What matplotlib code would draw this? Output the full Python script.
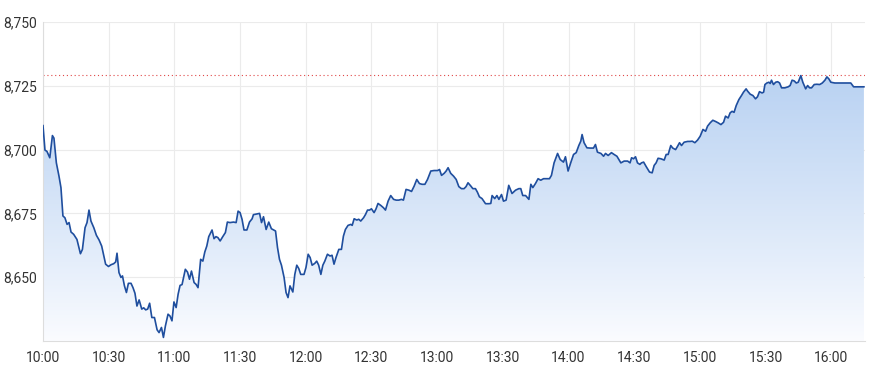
import numpy as np
import matplotlib
matplotlib.use("Agg")
import matplotlib.pyplot as plt
from matplotlib.colors import LinearSegmentedColormap

# minutes after 10:00 and index level
minutes = [0, 0.9, 1.8, 3.1, 4.3, 5.0, 6.1, 7.3, 8.2, 9.1, 10.0, 11.0, 11.9, 12.8, 14.0,
           15.5, 17.1, 18.0, 19.2, 20.1, 21.0, 21.9, 23.2, 24.4, 25.6, 26.8, 27.7, 28.6,
           29.9, 31.1, 32.3, 33.2, 33.8, 34.7, 35.6, 36.3, 37.2, 38.1, 39.0, 40.2, 41.1,
           42.0, 42.9, 43.9, 45.1, 46.0, 46.9, 47.8, 48.7, 49.7, 50.9, 52.1, 53.0,
           54.1, 55.0, 55.9, 57.1, 58.0, 58.9, 59.8, 60.8, 61.7, 62.6, 63.5, 65.0, 66.0,
           66.9, 67.8, 69.0, 69.9, 70.8, 72.0, 73.0, 73.9, 74.8, 75.7, 77.2, 78.1, 79.0,
           79.9, 80.9, 82.1, 83.3, 84.2, 85.4, 87.0, 88.2, 89.1, 90.0, 90.9, 91.8, 93.1,
           94.3, 95.5, 96.1, 97.3, 98.9, 99.8, 100.7, 101.9, 103.1, 104.3, 106.2, 107.1,
           108.0, 108.9, 110.1, 111.0, 111.9, 112.8, 114.1, 115.0, 115.9, 116.8, 117.7,
           119.2, 120.1, 121.1, 122.0, 122.9, 124.1, 125.0, 125.9, 126.9, 127.8, 128.7,
           129.9, 131.1, 132.0, 132.9, 133.8, 135.1, 136.3, 137.2, 138.1, 139.3, 140.6,
           141.2, 142.1, 143.3, 144.2, 145.1, 146.4, 147.3, 148.2, 149.1, 150.0, 151.2,
           152.1, 153.0, 154.3, 155.5, 156.4, 157.6, 158.8, 160.1, 161.3, 162.5,
           163.7, 164.6, 165.8, 167.1, 168.3, 169.5, 170.7, 171.9, 173.1, 174.4, 175.6,
           177.1, 178.6, 180.2, 181.1, 182.0, 183.2, 184.1, 185.0, 186.2, 187.5, 188.7,
           189.9, 191.1, 192.3, 193.2, 194.1, 195.4, 196.3, 197.5, 198.4, 199.3, 200.5,
           202.1, 203.6, 204.5, 205.1, 206.3, 207.3, 208.2, 209.4, 210.3, 211.5, 212.7,
           214.2, 215.8, 217.3, 218.2, 219.1, 220.4, 221.9, 222.8, 223.7, 224.9, 226.1,
           227.3, 228.6, 230.1, 231.3, 232.2, 233.4, 235.0, 236.2, 237.7, 238.6, 239.8,
           241.1, 242.3, 243.5, 244.7, 245.6, 246.2, 247.1, 248.4, 249.9, 251.4, 252.3,
           253.2, 254.8, 256.0, 256.9, 258.1, 259.6, 260.8, 262.1, 263.9, 265.4, 267.0,
           268.1, 268.8, 269.7, 270.6, 271.5, 272.6, 273.3, 274.3, 275.5, 277.0, 278.2,
           279.1, 280.0, 280.9, 282.2, 283.7, 284.6, 285.5, 286.7, 287.6, 288.9, 289.8,
           290.7, 291.6, 292.8, 294.4, 295.5, 296.5, 297.7, 298.9, 300.1, 301.4, 302.6,
           303.5, 304.7, 305.9, 307.2, 308.3, 309.6, 310.8, 311.7, 312.9, 313.8, 314.7,
           315.6, 316.6, 317.8, 319.0, 319.9, 321.1, 321.8, 323.0, 324.2, 325.4, 326.3,
           327.2, 328.4, 329.1, 329.7, 330.6, 331.5, 332.1, 332.7, 333.6, 334.6, 335.5,
           336.4, 337.3, 338.8, 340.3, 341.2, 342.1, 343.1, 344.0, 344.9, 346.1, 347.0,
           348.3, 349.2, 350.1, 351.0, 352.2, 353.4, 354.7, 355.9, 357.1, 358.0, 358.9,
           359.8, 361.6, 364.7, 368.9, 370.2, 372.3, 374.9]

prices = [8709.4, 8699.8, 8699.3, 8696.8, 8705.5, 8704.5, 8694.8, 8689.6, 8685.1, 8674.0,
          8673.3, 8670.7, 8671.4, 8667.7, 8666.8, 8664.8, 8659.2, 8660.9, 8669.4, 8671.4,
          8676.3, 8672.0, 8669.4, 8666.4, 8664.6, 8662.2, 8658.6, 8655.1, 8654.2, 8654.9,
          8655.3, 8656.0, 8659.4, 8651.8, 8649.9, 8650.5, 8646.6, 8644.0, 8647.6, 8647.6,
          8645.9, 8643.7, 8638.7, 8641.1, 8637.5, 8638.0, 8637.2, 8637.5, 8639.8, 8634.2,
          8634.2, 8629.4, 8628.3,
          8630.3, 8626.4, 8630.9, 8635.5, 8634.8, 8632.9, 8640.3, 8638.1, 8643.3, 8646.8,
          8647.1, 8653.1, 8652.0, 8649.2, 8652.4, 8647.9, 8647.2, 8645.9, 8657.0, 8656.3,
          8659.9, 8662.2, 8665.9, 8668.5, 8665.1, 8665.9, 8665.5, 8664.2, 8665.9, 8667.5,
          8671.6, 8671.4, 8671.6, 8671.4, 8675.9, 8675.3, 8672.7, 8668.5, 8668.5, 8671.6,
          8672.9, 8674.5, 8674.7, 8675.0, 8671.4, 8673.7, 8668.7, 8671.6, 8669.0, 8668.1,
          8661.6, 8657.0,
          8654.7, 8649.9, 8644.0, 8642.0, 8646.6, 8644.2, 8651.1, 8654.7, 8653.4, 8651.1,
          8651.1, 8653.8, 8659.0, 8657.7, 8654.7, 8655.4, 8656.3, 8654.7, 8651.1, 8654.7,
          8656.3, 8659.0, 8658.3, 8658.6, 8655.1, 8657.7, 8660.9, 8660.9, 8666.1, 8668.7,
          8670.3, 8670.7, 8670.3, 8672.9, 8672.4, 8672.7, 8672.0, 8673.3, 8674.6, 8676.3,
          8676.3, 8676.8, 8675.3, 8676.8, 8678.9, 8678.1, 8677.2, 8676.3, 8679.8, 8682.0,
          8680.5, 8680.2, 8680.2,
          8680.5, 8680.2, 8684.4, 8684.1, 8683.6, 8685.7, 8688.3, 8686.7, 8686.4, 8686.4,
          8688.3, 8691.6, 8691.8, 8691.8, 8692.2, 8689.9, 8690.7, 8691.6, 8692.9, 8690.7,
          8689.6, 8688.3, 8685.5, 8684.7, 8684.7, 8685.5, 8687.0, 8685.7, 8684.7, 8684.7,
          8683.3, 8681.5, 8680.8, 8678.8, 8678.8, 8678.9, 8682.0, 8680.8, 8682.0, 8680.5,
          8682.4, 8679.8, 8680.2, 8686.0, 8682.8, 8684.1, 8684.7,
          8684.7, 8682.0, 8682.0, 8680.5, 8686.4, 8685.1, 8686.7, 8688.6, 8688.0, 8688.6,
          8688.6, 8688.6, 8689.9, 8694.8, 8698.5, 8696.1, 8695.1, 8697.2, 8691.6, 8695.1,
          8698.1, 8698.8, 8701.6, 8703.3, 8705.9, 8702.7, 8700.7, 8700.6, 8700.6, 8702.0,
          8699.0, 8698.5, 8697.4, 8698.5, 8697.7, 8698.8, 8698.1, 8697.4, 8694.8, 8695.5,
          8695.5, 8694.8, 8696.8, 8696.4, 8697.2, 8694.8, 8694.2,
          8694.8, 8695.1, 8693.3, 8691.2, 8690.9, 8693.8, 8694.8, 8696.6, 8696.4, 8695.9,
          8698.1, 8698.1, 8701.6, 8700.6, 8700.0, 8701.3, 8702.7, 8701.6, 8702.9, 8703.2,
          8703.2, 8703.3, 8702.7, 8703.7, 8705.2, 8707.9, 8707.2, 8709.2, 8710.5, 8711.5,
          8711.0, 8710.5, 8709.8, 8710.7, 8713.1, 8712.4, 8714.4, 8715.0, 8714.6, 8717.3,
          8719.6, 8721.2, 8722.5, 8723.8,
          8722.9, 8721.7, 8721.2, 8719.9, 8720.7, 8722.7, 8722.2, 8722.5, 8725.5, 8726.1,
          8726.4, 8725.9, 8727.2, 8725.5, 8726.4, 8726.6, 8726.1, 8724.2, 8724.2, 8724.6,
          8725.1, 8727.2, 8726.9, 8726.1, 8726.4, 8729.0, 8726.4, 8723.8, 8725.1, 8724.2,
          8724.2, 8725.5, 8725.6, 8725.5, 8726.1, 8727.2, 8728.5, 8727.7, 8726.4, 8726.1,
          8726.1, 8726.1, 8724.6, 8724.6, 8724.6]

prev_close = 8729.3
x_tick_labels = ["10:00", "10:30", "11:00", "11:30", "12:00", "12:30", "13:00",
                 "13:30", "14:00", "14:30", "15:00", "15:30", "16:00"]
y_ticks = [8650, 8675, 8700, 8725, 8750]

plt.rcParams['font.family'] = ['Roboto', 'DejaVu Sans']

fig = plt.figure(figsize=(8.7, 3.71), dpi=100)
ax = fig.add_axes([43 / 870, 30 / 371, 822 / 870, 319 / 371])

x = np.array(minutes)
y = np.array(prices)
x_max = 375.4
y_min, y_max = 8625, 8750

# gradient fill under the line
cmap = LinearSegmentedColormap.from_list("fill", ["#fbfcff", "#b9d2f2"])
grad = np.linspace(0, 1, 256).reshape(-1, 1)
grad = grad ** 0.9
img = ax.imshow(grad, cmap=cmap, aspect="auto", origin="lower",
                extent=[0, x_max, y_min, 8730], zorder=1)
poly = ax.fill_between(x, y, y_min, color="none", lw=0)
clip = poly.get_paths()[0]
img.set_clip_path(clip, transform=ax.transData)

ax.plot(x, y, color="#1f4e9e", lw=1.2, zorder=3)
ax.axhline(prev_close, color="#e04848", lw=0.8, ls=(0, (1, 2.5)), zorder=2)

ax.set_xlim(0, x_max)
ax.set_ylim(y_min, y_max)
ax.set_xticks(np.arange(len(x_tick_labels)) * 30)
ax.set_xticklabels(x_tick_labels)
ax.set_yticks(y_ticks)
ax.set_yticklabels([f"{v:,}" for v in y_ticks])

ax.grid(True, color="#ebebeb", lw=0.8, zorder=0)
ax.set_axisbelow(True)
ax.tick_params(length=0, labelsize=10, labelcolor="#333333")
ax.tick_params(axis="x", pad=7)
ax.tick_params(axis="y", pad=4)
for side in ["top", "right"]:
    ax.spines[side].set_visible(False)
for side in ["left", "bottom"]:
    ax.spines[side].set_color("#dddddd")
    ax.spines[side].set_linewidth(0.8)

fig.savefig("out.png", dpi=100)
